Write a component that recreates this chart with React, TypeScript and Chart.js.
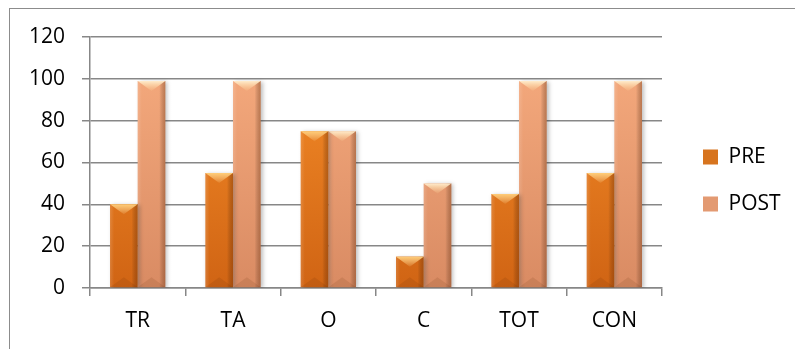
import React, { useEffect, useRef } from 'react';
import { Chart, registerables } from 'chart.js';

Chart.register(...registerables);

const categories = ['TR', 'TA', 'O', 'C', 'TOT', 'CON'];
const seriesLabels = ['PRE', 'POST'];
const preValues = [40, 55, 75, 15, 45, 55];
const postValues = [99, 99, 75, 50, 99, 99];
const yTicks = [0, 20, 40, 60, 80, 100, 120];

const FONT = '"Open Sans"';
const FONT_SIZE = 21;
const LEGEND_PAD = 26;
const LEGEND_BOX = 15;
const LEGEND_ITEM_LEFT = 703;
const PLOT_RIGHT = 662;

const vGrad = (top: string, bottom: string) => (c: any) => {
  const chart = c.chart;
  const area = chart.chartArea;
  if (!area) return bottom;
  const g = chart.ctx.createLinearGradient(0, area.top, 0, area.bottom);
  g.addColorStop(0, top);
  g.addColorStop(1, bottom);
  return g;
};

const legendSwatches = ['#D7741E', '#E39A72'];

const framePlugin = {
  id: 'frame',
  beforeDraw(chart: any) {
    const ctx = chart.ctx;
    ctx.save();
    ctx.fillStyle = '#ffffff';
    ctx.fillRect(0, 0, chart.width, chart.height);
    ctx.strokeStyle = '#8c8c8c';
    ctx.lineWidth = 1;
    ctx.strokeRect(9.5, 8.5, 1000, 600);
    ctx.restore();
  },
};

const bevelPlugin = {
  id: 'bevel',
  beforeDatasetDraw(chart: any) {
    const ctx = chart.ctx;
    ctx.save();
    ctx.shadowColor = 'rgba(0,0,0,0.25)';
    ctx.shadowBlur = 4;
    ctx.shadowOffsetX = 2;
    ctx.shadowOffsetY = 1;
  },
  afterDatasetDraw(chart: any, args: any) {
    const ctx = chart.ctx;
    ctx.restore();
    const light = args.index === 0 ? 'rgba(255,205,120,1)' : 'rgba(255,236,205,1)';
    args.meta.data.forEach((el: any) => {
      const { x, y, base, width } = el.getProps(['x', 'y', 'base', 'width'], true);
      const x0 = x - width / 2;
      const x1 = x + width / 2;
      const top = Math.min(y, base);
      const bot = Math.max(y, base);
      ctx.save();
      let g = ctx.createLinearGradient(x0, 0, x1, 0);
      g.addColorStop(0, 'rgba(255,255,255,0.14)');
      g.addColorStop(0.15, 'rgba(255,255,255,0)');
      g.addColorStop(0.78, 'rgba(0,0,0,0)');
      g.addColorStop(1, 'rgba(90,35,0,0.35)');
      ctx.fillStyle = g;
      ctx.fillRect(x0, top, width, bot - top);
      const d = Math.min(10, (bot - top) / 2);
      g = ctx.createLinearGradient(0, top, 0, top + d);
      g.addColorStop(0, light);
      g.addColorStop(1, 'rgba(255,220,160,0.1)');
      ctx.beginPath();
      ctx.moveTo(x0, top);
      ctx.lineTo(x1, top);
      ctx.lineTo(x, top + d);
      ctx.closePath();
      ctx.fillStyle = g;
      ctx.fill();
      ctx.beginPath();
      ctx.moveTo(x0, bot);
      ctx.lineTo(x1, bot);
      ctx.lineTo(x, bot - d);
      ctx.closePath();
      ctx.fillStyle = 'rgba(90,40,10,0.12)';
      ctx.fill();
      ctx.restore();
    });
  },
};

export default function App() {
  const ref = useRef<HTMLCanvasElement | null>(null);

  useEffect(() => {
    if (!ref.current) return;
    const mctx = document.createElement('canvas').getContext('2d') as CanvasRenderingContext2D;
    mctx.font = `${FONT_SIZE}px ${FONT}`;
    const textW = Math.max(...seriesLabels.map((s) => mctx.measureText(s).width));
    const legendW = LEGEND_PAD + LEGEND_BOX + FONT_SIZE / 2 + textW + 10;
    const legendLeft = LEGEND_ITEM_LEFT - LEGEND_PAD;
    const padRight = Math.max(0, 795 - legendLeft - legendW);

    const chart = new Chart(ref.current, {
      type: 'bar',
      data: {
        labels: categories,
        datasets: [
          {
            label: seriesLabels[0],
            data: preValues,
            backgroundColor: vGrad('#F8902A', '#D06414'),
            borderWidth: 0,
            categoryPercentage: 0.58,
            barPercentage: 1,
          },
          {
            label: seriesLabels[1],
            data: postValues,
            backgroundColor: vGrad('#F8AD80', '#D98B63'),
            borderWidth: 0,
            categoryPercentage: 0.58,
            barPercentage: 1,
          },
        ],
      },
      options: {
        responsive: false,
        animation: false,
        layout: { padding: { top: 28, bottom: 16, left: 0, right: padRight } },
        scales: {
          x: {
            grid: {
              display: true,
              drawOnChartArea: false,
              drawTicks: true,
              tickLength: 8,
              color: '#878787',
              lineWidth: 1.5,
              offset: true,
            },
            border: { display: true, color: '#878787', width: 1.5 },
            ticks: { color: '#000', font: { family: FONT, size: FONT_SIZE }, padding: 12 },
            afterFit: (s: any) => {
              s.height = 45;
            },
          },
          y: {
            min: yTicks[0],
            max: yTicks[yTicks.length - 1],
            ticks: {
              stepSize: yTicks[1] - yTicks[0],
              color: '#000',
              font: { family: FONT, size: FONT_SIZE },
              padding: 17,
            },
            grid: { color: '#878787', lineWidth: 1.5, tickLength: 8 },
            border: { display: true, color: '#878787', width: 1.5 },
            afterFit: (s: any) => {
              s.width = 90;
            },
          },
          y2: {
            position: 'right',
            display: true,
            grid: { display: false },
            border: { display: false },
            ticks: { display: false },
            afterFit: (s: any) => {
              s.width = legendLeft - PLOT_RIGHT;
            },
          },
        },
        plugins: {
          title: {
            display: true,
            text: '',
            font: { size: 5 },
            padding: { top: 3, bottom: 0 },
          },
          tooltip: { enabled: false },
          legend: {
            position: 'right',
            labels: {
              boxWidth: LEGEND_BOX,
              boxHeight: LEGEND_BOX,
              padding: LEGEND_PAD,
              color: '#000',
              font: { family: FONT, size: FONT_SIZE },
              generateLabels: (c: any) =>
                (Chart.defaults.plugins.legend.labels as any)
                  .generateLabels(c)
                  .map((l: any, i: number) => ({
                    ...l,
                    fillStyle: legendSwatches[i],
                    strokeStyle: legendSwatches[i],
                    lineWidth: 0,
                  })),
            },
          },
        },
      } as any,
      plugins: [framePlugin, bevelPlugin],
    });
    return () => chart.destroy();
  }, []);

  return (
    <div style={{ position: 'absolute', left: 0, top: 0, width: 795, height: 349 }}>
      <canvas ref={ref} width={795} height={349} />
    </div>
  );
}
